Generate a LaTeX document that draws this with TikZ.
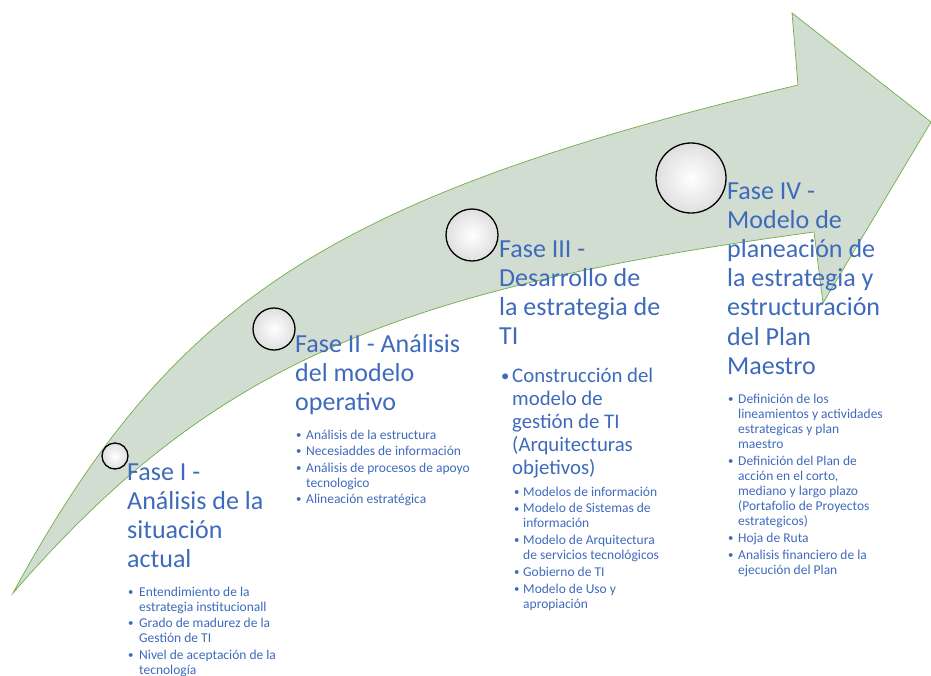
\documentclass[tikz,border=0pt]{standalone}
\usepackage{fontspec}
\setmainfont{Carlito}
\usetikzlibrary{calc}
\definecolor{azul}{RGB}{62,106,188}
\definecolor{relleno}{RGB}{209,221,209}
\definecolor{borde}{RGB}{112,173,71}
\newcommand{\bul}[1] % width of bullet box
{\makebox[#1][l]{\raisebox{0.1ex}{\scalebox{0.8}{\textbullet}}}}
\newcommand{\hang}[1] % indent of wrapped line
{\hspace*{#1}}
\tikzset{
	fase/.style={anchor=base west, inner sep=0pt, align=left, text=azul, font=\fontsize{26}{29.2}\selectfont},
	sub/.style={anchor=base west, inner sep=0pt, align=left, text=azul, font=\fontsize{20.8}{23}\selectfont},
	punto/.style={anchor=base west, inner sep=0pt, align=left, text=azul, font=\fontsize{13.5}{15}\selectfont},
	bola/.style={circle, draw=black, line width=1.3pt, inner color=white, outer color=gray!25, inner sep=0pt},
	flecha/.style={fill=relleno, draw=borde, line width=0.7pt}
}

\begin{document}
\begin{tikzpicture}[x=1pt, y=-1pt]
	% 931 x 675, y downwards
	% text nodes sit on the baseline of their last line
	\useasboundingbox (0,0) rectangle (931,675);
	% arrow
	\draw[flecha] (13,593) .. controls (173,299) and (331,197) .. (798,85)
		-- (792,13) -- (931,122) -- (823,303) -- (814,232)
		.. controls (384,290) and (208,369) .. (13,593) -- cycle;
	
	% circles
	\node[bola, minimum size=26pt] (c1) at (115,456) {};
	\node[bola, minimum size=42pt] (c2) at (274,329) {};
	\node[bola, minimum size=52pt] (c3) at (472,235) {};
	\node[bola, minimum size=70pt] (c4) at (691,178) {};
	
	% Fase I
	\node[fase] (f1) at (127,567.6) {Fase I -\\Análisis de la\\situación\\actual};
	\node[punto] (p1) at (128,674) {\bul{11pt}Entendimiento de la\\\hang{11pt}estrategia institucionall\\[1.5pt]
		\bul{11pt}Grado de madurez de la\\\hang{11pt}Gestión de TI\\[1.5pt]
		\bul{11pt}Nivel de aceptación de la\\\hang{11pt}tecnología};
	
	% Fase II
	\node[fase] (f2) at (295,410.4) {Fase II - Análisis\\del modelo\\operativo};
	\node[punto] (p2) at (296,503.5) {\bul{10pt}Análisis de la estructura\\[1.5pt]
		\bul{10pt}Necesiaddes de información\\[1.5pt]
		\bul{10pt}Análisis de procesos de apoyo\\\hang{10pt}tecnologico\\[1.5pt]
		\bul{10pt}Alineación estratégica};
	
	% Fase III
	\node[fase] (f3) at (499,344.6) {Fase III -\\Desarrollo de\\la estrategia de\\TI};
	\node[sub] (s3) at (501,474) {\bul{11pt}Construcción del\\\hang{11pt}modelo de\\\hang{11pt}gestión de TI\\\hang{11pt}(Arquitecturas\\\hang{11pt}objetivos)};
	\node[punto] (p3) at (514,608) {\bul{9pt}Modelos de información\\[1.7pt]
		\bul{9pt}Modelo de Sistemas de\\\hang{9pt}información\\[1.7pt]
		\bul{9pt}Modelo de Arquitectura\\\hang{9pt}de servicios tecnológicos\\[1.7pt]
		\bul{9pt}Gobierno de TI\\[1.7pt]
		\bul{9pt}Modelo de Uso y\\\hang{9pt}apropiación};
	
	% Fase IV
	\node[fase] (f4) at (727,374.2) {Fase IV -\\Modelo de\\planeación de\\la estrategia y\\estructuración\\del Plan\\Maestro};
	\node[punto] (p4) at (728,574) {\bul{10pt}Definición de los\\\hang{10pt}lineamientos y actividades\\\hang{10pt}estrategicas y plan\\\hang{10pt}maestro\\[2pt]
		\bul{10pt}Definición del Plan de\\\hang{10pt}acción en el corto,\\\hang{10pt}mediano y largo plazo\\\hang{10pt}(Portafolio de Proyectos\\\hang{10pt}estrategicos)\\[2pt]
		\bul{10pt}Hoja de Ruta\\[2pt]
		\bul{10pt}Analisis financiero de la\\\hang{10pt}ejecución del Plan};
\end{tikzpicture}
\end{document}
